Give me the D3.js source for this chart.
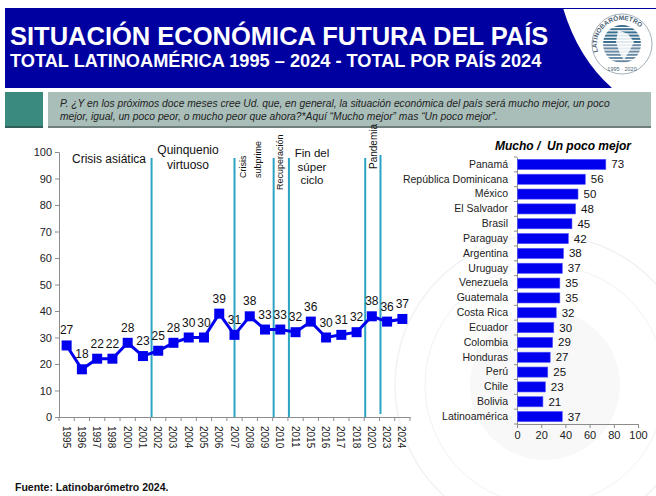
<!DOCTYPE html>
<html>
<head>
<meta charset="utf-8">
<script src="https://cdn.jsdelivr.net/npm/d3@7"></script>
<style>
  body { margin: 0; background: #fff; }
  svg text { font-family: "Liberation Sans", Arial, sans-serif; }
</style>
</head>
<body>
<script>
// left chart: total Latinoamérica by year
const years = ["1995","1996","1997","1998","2000","2001","2002","2003","2004","2005","2006","2007",
  "2008","2009","2010","2011","2015","2016","2017","2018","2020","2023","2024"];
const totals = [27,18,22,22,28,23,25,28,30,30,39,31,38,33,33,32,36,30,31,32,38,36,37];
const yTicks = [0,10,20,30,40,50,60,70,80,90,100];
// period separators (year where the line sits)
const breakYears = ["2002","2007","2010","2011","2020","2023"];

// right chart: 2024 by country
const countries = ["Panamá","República Dominicana","México","El Salvador","Brasil","Paraguay","Argentina",
  "Uruguay","Venezuela","Guatemala","Costa Rica","Ecuador","Colombia","Honduras","Perú","Chile","Bolivia","Latinoamérica"];
const countryValues = [73,56,50,48,45,42,38,37,35,35,32,30,29,27,25,23,21,37];
const barTicks = [0,20,40,60,80,100];

const W = 656, H = 496;
const svg = d3.select("body").append("svg").attr("width", W).attr("height", H);

// faint watermark
const wm = svg.append("g").attr("transform", "translate(545,385)").attr("fill", "none")
  .attr("stroke", "#f2f2f2");
wm.append("circle").attr("r", 150).attr("stroke-width", 1.5);
wm.append("circle").attr("r", 120).attr("stroke-width", 1);
wm.append("circle").attr("r", 75).attr("fill", "#f8f8f8").attr("stroke", "none");

// ---- header
svg.append("path")
  .attr("d", "M5,8 H563 Q578,58 612,88 H5 Z")
  .attr("fill", "#0000a0");
svg.append("line").attr("x1", 563).attr("x2", 656).attr("y1", 8.5).attr("y2", 8.5)
  .attr("stroke", "#0000a0").attr("stroke-width", 1);
svg.append("text").attr("x", 10).attr("y", 45)
  .attr("fill", "#fff").attr("font-weight", "bold").attr("font-size", 25.5)
  .text("SITUACIÓN ECONÓMICA FUTURA DEL PAÍS");
svg.append("text").attr("x", 10).attr("y", 67)
  .attr("fill", "#fff").attr("font-weight", "bold").attr("font-size", 18.2)
  .text("TOTAL LATINOAMÉRICA 1995 – 2024 - TOTAL POR PAÍS 2024");

// logo (rough)
const logo = svg.append("g").attr("transform", "translate(622,44)");
logo.append("circle").attr("r", 30).attr("fill", "none").attr("stroke", "#8a9aa8").attr("stroke-width", 0.8);
logo.append("path").attr("id", "logoArc")
  .attr("d", "M-24,8 A25,25 0 1,1 24,8").attr("fill", "none");
logo.append("text").attr("font-size", 6.5).attr("fill", "#4a5f75").attr("font-weight", "bold")
  .append("textPath").attr("href", "#logoArc").text("LATINOBARÓMETRO");
logo.append("text").attr("y", 27).attr("text-anchor", "middle").attr("font-size", 5.5)
  .attr("fill", "#4a5f75").text("1995 · 2020");
logo.append("clipPath").attr("id", "logoClip").append("circle").attr("r", 19);
const stripes = logo.append("g").attr("clip-path", "url(#logoClip)");
d3.range(-19, 19, 3.2).forEach(y => {
  stripes.append("rect").attr("x", -19).attr("y", y).attr("width", 38).attr("height", 2)
    .attr("fill", y < 0 ? "#3b6f8f" : "#6c8ca6");
});
stripes.append("path").attr("d", "M-4,-14 L6,-10 L12,-2 L8,6 L2,16 L-2,10 L-6,-2 Z")
  .attr("fill", "#fff").attr("opacity", 0.85);

// ---- question box
svg.append("rect").attr("x", 5).attr("y", 92).attr("width", 38).attr("height", 36).attr("fill", "#3a8a80");
svg.append("rect").attr("x", 48).attr("y", 92).attr("width", 603).attr("height", 36).attr("fill", "#a9beb9");
svg.append("rect").attr("x", 48).attr("y", 126).attr("width", 603).attr("height", 2).attr("fill", "#6f7f7b");
svg.append("rect").attr("x", 5).attr("y", 126).attr("width", 38).attr("height", 2).attr("fill", "#2f5f58");
const q = svg.append("text").attr("font-size", 10.3).attr("font-style", "italic").attr("fill", "#222");
q.append("tspan").attr("x", 60).attr("y", 107)
  .text("P. ¿Y en los próximos doce meses cree Ud. que, en general, la situación económica del país será mucho mejor, un poco");
q.append("tspan").attr("x", 60).attr("y", 120)
  .text("mejor, igual, un poco peor, o mucho peor que ahora?*Aquí “Mucho mejor” mas “Un poco mejor”.");

// ---- left line chart
const x = d3.scaleBand().domain(years).range([59, 410]);
const y = d3.scaleLinear().domain([0, 100]).range([417, 152]);

const yAxis = svg.append("g").attr("transform", "translate(59,0)")
  .call(d3.axisLeft(y).tickValues(yTicks).tickSize(4).tickPadding(3));
const xAxis = svg.append("g").attr("transform", "translate(0,417)")
  .call(d3.axisBottom(x).tickSize(0).tickPadding(0));
[yAxis, xAxis].forEach(a => {
  a.select(".domain").attr("stroke", "#8c8c8c");
  a.selectAll(".tick line").attr("stroke", "#8c8c8c");
});
yAxis.selectAll("text").attr("font-size", 11).attr("fill", "#222").attr("font-family", null);
xAxis.selectAll(".tick text")
  .attr("font-size", 10).attr("fill", "#222").attr("font-family", null)
  .attr("text-anchor", "start").attr("dy", null).attr("y", 0)
  .attr("transform", "translate(-4,9) rotate(90)");
// ticks at band boundaries
xAxis.selectAll(".boundary").data(years.concat(["end"])).join("line")
  .attr("x1", (d, i) => x.range()[0] + i * x.step()).attr("x2", (d, i) => x.range()[0] + i * x.step())
  .attr("y1", 0).attr("y2", 4).attr("stroke", "#8c8c8c");

// period separator lines
const breakX = d => d === "2007" ? x(d) + x.bandwidth() / 2 : x(d) + 1;
svg.selectAll(".brk").data(breakYears).join("line")
  .attr("x1", d => breakX(d)).attr("x2", d => breakX(d))
  .attr("y1", d => d === "2023" ? 155 : 158)
  .attr("y2", d => d === "2023" ? 414 : 417)
  .attr("stroke", "#2aa3c4").attr("stroke-width", 2);

// period labels
const ann = svg.append("g").attr("fill", "#111");
ann.append("text").attr("x", 72).attr("y", 163).attr("font-size", 12).text("Crisis asiática");
ann.append("text").attr("x", 188).attr("y", 154).attr("font-size", 12).attr("text-anchor", "middle").text("Quinquenio");
ann.append("text").attr("x", 188).attr("y", 169).attr("font-size", 12).attr("text-anchor", "middle").text("virtuoso");
ann.append("text").attr("transform", "translate(246,178) rotate(-90)").attr("font-size", 9).text("Crisis");
ann.append("text").attr("transform", "translate(261,178) rotate(-90)").attr("font-size", 9).text("subprime");
ann.append("text").attr("transform", "translate(283,190) rotate(-90)").attr("font-size", 9).text("Recuperación");
ann.append("text").attr("x", 312).attr("y", 157).attr("font-size", 11.5).attr("text-anchor", "middle").text("Fin del");
ann.append("text").attr("x", 312).attr("y", 171).attr("font-size", 11.5).attr("text-anchor", "middle").text("súper");
ann.append("text").attr("x", 312).attr("y", 184).attr("font-size", 11.5).attr("text-anchor", "middle").text("ciclo");
ann.append("text").attr("transform", "translate(377,169) rotate(-90)").attr("font-size", 10).text("Pandemia");

// series
const pts = years.map((yr, i) => ({ yr, v: totals[i] }));
const cx = d => x(d.yr) + x.bandwidth() / 2;
svg.append("path").datum(pts)
  .attr("d", d3.line().x(cx).y(d => y(d.v)))
  .attr("fill", "none").attr("stroke", "#0000ee").attr("stroke-width", 3);
svg.selectAll(".mk").data(pts).join("rect")
  .attr("x", d => cx(d) - 5).attr("y", d => y(d.v) - 5)
  .attr("width", 10).attr("height", 10).attr("fill", "#0000ee");
svg.selectAll(".lbl").data(pts).join("text")
  .attr("x", cx).attr("y", d => y(d.v) - 11)
  .attr("text-anchor", "middle").attr("font-size", 12).attr("fill", "#111")
  .text(d => d.v);

// ---- right bar chart
const bx = d3.scaleLinear().domain([0, 100]).range([517, 638]);
const by = d3.scaleBand().domain(countries).range([157, 424]).paddingInner(0.32).paddingOuter(0.16);

svg.append("text").attr("x", 563).attr("y", 150).attr("text-anchor", "middle")
  .attr("font-size", 12).attr("font-weight", "bold").attr("font-style", "italic")
  .attr("xml:space", "preserve").text("Mucho /  Un poco mejor");

const bxAxis = svg.append("g").attr("transform", "translate(0,424)")
  .call(d3.axisBottom(bx).tickValues(barTicks).tickSize(4).tickPadding(3));
const byAxis = svg.append("g").attr("transform", "translate(517,0)")
  .call(d3.axisLeft(by).tickSize(0).tickPadding(9));
[bxAxis, byAxis].forEach(a => {
  a.select(".domain").attr("stroke", "#8c8c8c");
  a.selectAll(".tick line").attr("stroke", "#8c8c8c");
});
bxAxis.selectAll("text").attr("font-size", 11).attr("fill", "#222").attr("font-family", null);
byAxis.selectAll("text").attr("font-size", 10.5).attr("fill", "#222").attr("font-family", null);
byAxis.selectAll(".boundary").data(countries.concat(["end"])).join("line")
  .attr("x1", -3).attr("x2", 0)
  .attr("y1", (d, i) => 157 + i * by.step()).attr("y2", (d, i) => 157 + i * by.step())
  .attr("stroke", "#8c8c8c");

const bars = countries.map((c, i) => ({ c, v: countryValues[i] }));
svg.selectAll(".bar").data(bars).join("rect")
  .attr("x", bx(0) + 0.5).attr("y", d => by(d.c))
  .attr("width", d => bx(d.v) - bx(0)).attr("height", by.bandwidth())
  .attr("fill", "#0000ee").attr("stroke", "#5050ff").attr("stroke-width", 0.6);
svg.selectAll(".bval").data(bars).join("text")
  .attr("x", d => bx(d.v) + 6).attr("y", d => by(d.c) + by.bandwidth() / 2 + 4)
  .attr("font-size", 11.5).attr("fill", "#111").text(d => d.v);

// ---- source
svg.append("text").attr("x", 15).attr("y", 491).attr("font-size", 10.5).attr("font-weight", "bold")
  .attr("fill", "#111").text("Fuente: Latinobarómetro 2024.");
</script>
</body>
</html>
